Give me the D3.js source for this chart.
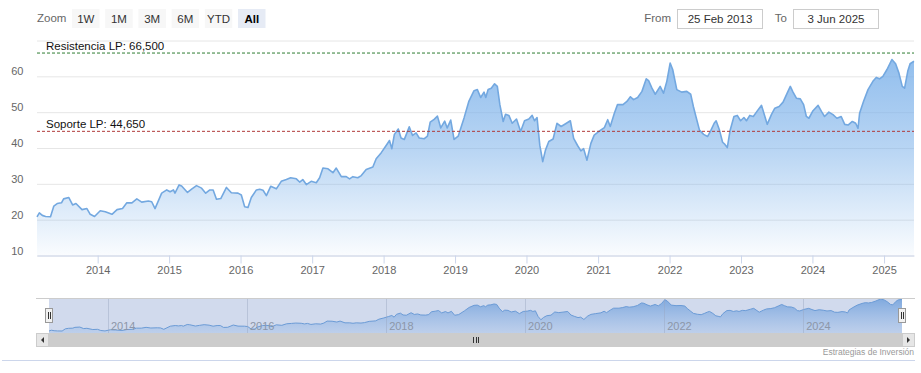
<!DOCTYPE html>
<html>
<head>
<meta charset="utf-8">
<script src="https://cdn.jsdelivr.net/npm/d3@7"></script>
<style>
  body { margin: 0; background: #fff; }
  text { font-family: "Liberation Sans", Arial, sans-serif; }
</style>
</head>
<body>
<div id="chart"></div>
<script>
// price series
const dates = [
  "2013-02-25","2013-03-09","2013-03-24","2013-04-10","2013-05-05","2013-05-22","2013-06-08","2013-06-30",
  "2013-07-11","2013-08-06","2013-08-26","2013-09-12","2013-10-13","2013-11-07","2013-11-24","2013-12-16",
  "2014-01-14","2014-02-09","2014-03-15","2014-04-10","2014-05-08","2014-05-30","2014-06-25","2014-07-20",
  "2014-08-14","2014-09-17","2014-10-04","2014-10-21","2014-11-24","2014-12-20","2015-01-06","2015-01-23",
  "2015-01-31","2015-02-21","2015-03-06","2015-04-05","2015-04-26","2015-05-21","2015-06-16","2015-07-07",
  "2015-07-28","2015-08-14","2015-08-31","2015-09-22","2015-10-21","2015-11-15","2015-12-19","2016-01-05",
  "2016-01-22","2016-02-08","2016-02-25","2016-03-22","2016-04-08","2016-04-25","2016-05-12","2016-06-03",
  "2016-07-02","2016-07-27","2016-08-22","2016-09-13","2016-10-12","2016-10-29","2016-11-14","2016-12-02",
  "2016-12-27","2017-01-22","2017-02-08","2017-02-25","2017-03-23","2017-04-17","2017-05-04","2017-05-30",
  "2017-06-24","2017-07-11","2017-07-28","2017-08-22","2017-09-09","2017-10-04","2017-11-07","2017-11-24",
  "2017-12-20","2018-01-14","2018-01-31","2018-02-12","2018-02-25","2018-03-17","2018-03-31","2018-04-17",
  "2018-05-12","2018-05-29","2018-06-16","2018-07-02","2018-07-28","2018-08-13","2018-08-27","2018-09-16",
  "2018-10-03","2018-10-20","2018-11-09","2018-11-22","2018-12-10","2018-12-27","2019-01-17","2019-02-16",
  "2019-03-13","2019-04-08","2019-04-25","2019-05-12","2019-05-29","2019-06-07","2019-06-19","2019-07-05",
  "2019-07-22","2019-08-05","2019-08-18","2019-09-04","2019-09-16","2019-10-03","2019-10-20","2019-11-11",
  "2019-12-02","2019-12-22","2020-01-13","2020-01-30","2020-02-11","2020-02-24","2020-03-09","2020-03-24",
  "2020-04-07","2020-04-24","2020-05-16","2020-06-05","2020-06-26","2020-07-23","2020-08-12","2020-08-29",
  "2020-09-18","2020-10-05","2020-10-19","2020-11-05","2020-11-25","2020-12-12","2021-01-04","2021-02-02",
  "2021-02-19","2021-03-04","2021-03-25","2021-04-10","2021-05-08","2021-05-28","2021-06-15","2021-07-01",
  "2021-07-22","2021-08-13","2021-09-04","2021-09-16","2021-10-03","2021-10-20","2021-11-14","2021-12-01",
  "2021-12-18","2022-01-04","2022-01-17","2022-02-07","2022-03-04","2022-03-30","2022-04-19","2022-05-03",
  "2022-05-17","2022-06-03","2022-06-24","2022-07-14","2022-07-30","2022-08-17","2022-08-27","2022-09-13",
  "2022-09-29","2022-10-11","2022-10-23","2022-11-06","2022-11-26","2022-12-13","2022-12-30","2023-01-16",
  "2023-01-29","2023-02-15","2023-03-05","2023-03-30","2023-04-16","2023-05-03","2023-05-15","2023-06-06",
  "2023-06-23","2023-07-15","2023-08-04","2023-08-25","2023-09-10","2023-09-24","2023-10-11","2023-10-31",
  "2023-11-17","2023-12-01","2023-12-14","2024-01-04","2024-01-30","2024-02-16","2024-03-03","2024-03-25",
  "2024-04-15","2024-05-05","2024-05-27","2024-06-14","2024-07-01","2024-07-23","2024-08-09","2024-08-21",
  "2024-08-29","2024-09-18","2024-10-11","2024-11-05","2024-11-22","2024-12-09","2024-12-26","2025-01-16",
  "2025-02-10","2025-03-01","2025-03-18","2025-04-04","2025-04-16","2025-05-02","2025-05-14","2025-06-03"
];
const prices = [
  20.8,21.9,21.2,20.9,20.8,23.8,24.5,24.7,
  25.8,26.2,24.1,24.5,22.8,23.1,21.5,20.9,
  22.5,22.2,21.5,22.8,23.1,24.7,24.7,25.8,
  24.9,25.2,25.0,23.1,27.4,28.3,27.8,28.3,
  27.4,29.7,29.4,27.6,28.5,29.5,28.8,27.4,
  28.3,28.3,25.7,25.9,29.0,27.5,27.4,26.9,
  23.6,23.4,26.2,28.3,28.5,28.2,26.7,29.3,
  28.6,30.7,31.2,31.7,31.4,30.5,31.2,29.8,
  30.7,30.3,31.7,34.4,34.2,33.1,34.4,32.0,
  32.0,31.4,32.0,31.7,32.3,34.0,34.7,37.0,
  38.7,40.7,42.1,39.8,43.8,45.3,42.8,42.4,
  45.9,43.5,44.2,42.8,42.6,43.3,47.2,48.0,
  48.9,45.6,47.5,45.6,47.8,42.4,43.3,48.4,
  53.1,56.0,56.3,54.1,55.6,54.1,56.3,56.7,
  57.9,57.2,52.1,47.4,49.4,49.1,46.9,48.1,
  44.6,47.6,48.1,49.1,47.6,48.5,40.8,36.2,
  39.4,41.8,42.5,46.9,46.0,46.9,47.6,42.7,
  40.7,39.2,39.8,36.6,41.3,43.6,44.6,45.7,
  47.9,46.0,49.7,52.1,52.1,53.0,54.3,53.5,
  54.1,55.8,59.3,58.8,56.7,55.0,57.2,55.3,
  58.6,63.7,61.9,56.3,55.6,55.8,55.0,51.5,
  48.5,45.0,43.8,43.2,44.8,46.9,47.6,45.0,
  41.6,41.0,40.1,44.8,48.8,49.1,47.6,48.5,
  47.6,49.1,48.8,50.7,51.9,48.8,46.6,49.4,
  51.1,51.6,52.8,55.3,57.2,55.6,53.9,53.7,
  52.1,48.8,48.3,50.4,51.9,50.2,48.8,50.0,
  49.3,48.3,48.8,46.6,46.4,47.4,46.9,45.5,
  49.7,53.0,56.3,58.6,59.7,59.3,60.0,61.9,
  64.7,63.5,60.9,57.2,56.7,61.4,63.5,64.2
];
const yTickLabels = [10, 20, 30, 40, 50, 60];
const levelNames  = ["Resistencia LP: 66,500", "Soporte LP: 44,650"];
const levelValues = [66.5, 44.65];
const zoomButtons = ["1W", "1M", "3M", "6M", "YTD", "All"];
const rangeFrom = "25 Feb 2013";
const rangeTo   = "3 Jun 2025";
const credit    = "Estrategias de Inversión";

const width  = 921;
const height = 373;
const plot = { left: 37, right: 914, top: 40.5, bottom: 255.5 };
const nav  = { left: 49, right: 902, top: 298, bottom: 333 };

const parseDate = d3.timeParse("%Y-%m-%d");
const data = dates.map((d, i) => ({ date: parseDate(d), price: prices[i] }));

const svg = d3.select("#chart")
  .append("svg")
  .attr("width", width)
  .attr("height", height);

const defs = svg.append("defs");
const areaGrad = defs.append("linearGradient")
  .attr("id", "areaGrad")
  .attr("gradientUnits", "userSpaceOnUse")
  .attr("x1", 0).attr("x2", 0)
  .attr("y1", plot.top).attr("y2", plot.bottom);
areaGrad.append("stop").attr("offset", 0).attr("stop-color", "#7db2ea").attr("stop-opacity", 0.9);
areaGrad.append("stop").attr("offset", 0.5).attr("stop-color", "#7db2ea").attr("stop-opacity", 0.55);
areaGrad.append("stop").attr("offset", 1).attr("stop-color", "#7db2ea").attr("stop-opacity", 0.04);

const navGrad = defs.append("linearGradient")
  .attr("id", "navGrad")
  .attr("gradientUnits", "userSpaceOnUse")
  .attr("x1", 0).attr("x2", 0)
  .attr("y1", nav.top).attr("y2", nav.bottom);
navGrad.append("stop").attr("offset", 0).attr("stop-color", "#6f9fdb").attr("stop-opacity", 0.85);
navGrad.append("stop").attr("offset", 1).attr("stop-color", "#8fb5e6").attr("stop-opacity", 0.3);

// scales
const xScale = d3.scaleTime()
  .domain(d3.extent(data, d => d.date))
  .range([plot.left, plot.right]);

const yScale = d3.scaleLinear()
  .domain([10, 70])
  .range([plot.bottom, plot.top]);

// y gridlines + labels
const yAxis = svg.append("g")
  .attr("transform", `translate(${plot.left}, 0)`)
  .call(d3.axisLeft(yScale)
    .tickValues(yScale.ticks(6))
    .tickSize(-(plot.right - plot.left))
    .tickPadding(13.5)
    .tickFormat(d => yTickLabels.includes(d) ? d : ""));
yAxis.select(".domain").remove();
yAxis.selectAll("line").attr("stroke", "#e6e6e6");
yAxis.selectAll("text")
  .attr("y", -5)
  .style("font-size", "11px")
  .style("fill", "#666");

// area + line
const area = d3.area()
  .x(d => xScale(d.date))
  .y0(plot.bottom)
  .y1(d => yScale(d.price));

svg.append("path")
  .datum(data)
  .attr("fill", "url(#areaGrad)")
  .attr("d", area);

const line = d3.line()
  .x(d => xScale(d.date))
  .y(d => yScale(d.price));

svg.append("path")
  .datum(data)
  .attr("fill", "none")
  .attr("stroke", "#73a8e0")
  .attr("stroke-width", 1.6)
  .attr("stroke-linejoin", "round")
  .attr("d", line);

// x axis
const xAxis = svg.append("g")
  .attr("transform", `translate(0, ${plot.bottom})`)
  .call(d3.axisBottom(xScale)
    .ticks(d3.timeYear.every(1))
    .tickFormat(d3.timeFormat("%Y"))
    .tickSize(8)
    .tickSizeOuter(0)
    .tickPadding(3));
xAxis.select(".domain").attr("stroke", "#ccd6eb");
xAxis.selectAll("line").attr("stroke", "#ccd6eb");
xAxis.selectAll("text")
  .style("font-size", "11px")
  .style("fill", "#666");

// support / resistance lines
const levelColors = ["#2e7d32", "#b03a3a"];
levelValues.forEach((v, i) => {
  svg.append("line")
    .attr("x1", plot.left).attr("x2", plot.right)
    .attr("y1", yScale(v)).attr("y2", yScale(v))
    .attr("stroke", levelColors[i])
    .attr("stroke-width", 1)
    .attr("stroke-dasharray", "3,2");
  svg.append("text")
    .attr("x", plot.left + 9)
    .attr("y", yScale(v) - 3)
    .style("font-size", "11.5px")
    .style("fill", "#111")
    .text(levelNames[i]);
});

// navigator
const navX = d3.scaleTime()
  .domain(xScale.domain())
  .range([nav.left, nav.right]);
const navY = d3.scaleLinear()
  .domain(d3.extent(data, d => d.price))
  .range([nav.bottom - 2, nav.top + 1]);

svg.append("rect")
  .attr("x", nav.left).attr("y", nav.top)
  .attr("width", nav.right - nav.left).attr("height", nav.bottom - nav.top)
  .attr("fill", "rgba(102,133,194,0.3)");

svg.append("path")
  .datum(data)
  .attr("fill", "url(#navGrad)")
  .attr("d", d3.area().x(d => navX(d.date)).y0(nav.bottom).y1(d => navY(d.price)));

svg.append("path")
  .datum(data)
  .attr("fill", "none")
  .attr("stroke", "#6b9bd6")
  .attr("stroke-width", 1)
  .attr("d", d3.line().x(d => navX(d.date)).y(d => navY(d.price)));

const navTicks = navX.ticks(d3.timeYear.every(2));
svg.append("g").selectAll("line")
  .data(navTicks)
  .join("line")
    .attr("x1", d => Math.round(navX(d)) + 0.5)
    .attr("x2", d => Math.round(navX(d)) + 0.5)
    .attr("y1", nav.top).attr("y2", nav.bottom)
    .attr("stroke", "#9aa6c0")
    .attr("stroke-opacity", 0.45);
svg.append("g").selectAll("text")
  .data(navTicks)
  .join("text")
    .attr("x", d => navX(d) + 3)
    .attr("y", nav.bottom - 3)
    .style("font-size", "11px")
    .style("fill", "#8c96a8")
    .text(d3.timeFormat("%Y"));

svg.append("line")
  .attr("x1", 36).attr("x2", 915)
  .attr("y1", nav.top + 0.5).attr("y2", nav.top + 0.5)
  .attr("stroke", "#cccccc");

// handles
[nav.left, nav.right].forEach(x => {
  svg.append("rect")
    .attr("x", x - 3.5).attr("y", 308.5)
    .attr("width", 7).attr("height", 14)
    .attr("fill", "#f2f2f2").attr("stroke", "#999");
  [-1, 1].forEach(o => {
    svg.append("line")
      .attr("x1", x + o + 0.5).attr("x2", x + o + 0.5)
      .attr("y1", 312).attr("y2", 319)
      .attr("stroke", "#333");
  });
});

// scrollbar
const sb = { left: 36, right: 915, top: 333, bottom: 347 };
svg.append("rect")
  .attr("x", sb.left).attr("y", sb.top)
  .attr("width", sb.right - sb.left).attr("height", sb.bottom - sb.top)
  .attr("fill", "#f2f2f2");
svg.append("rect")
  .attr("x", nav.left).attr("y", sb.top)
  .attr("width", nav.right - nav.left).attr("height", sb.bottom - sb.top)
  .attr("fill", "#cccccc");
[[sb.left, nav.left, -1], [nav.right, sb.right, 1]].forEach(([x0, x1, dir]) => {
  svg.append("rect")
    .attr("x", x0 + 0.5).attr("y", sb.top + 0.5)
    .attr("width", x1 - x0 - 1).attr("height", sb.bottom - sb.top - 1)
    .attr("fill", "#e6e6e6").attr("stroke", "#cccccc");
  const cx = (x0 + x1) / 2, cy = (sb.top + sb.bottom) / 2;
  svg.append("path")
    .attr("d", `M${cx - 1.5 * dir},${cy - 3} L${cx + 1.5 * dir},${cy} L${cx - 1.5 * dir},${cy + 3} Z`)
    .attr("fill", "#333");
});
const mid = (nav.left + nav.right) / 2;
[-2.5, 0, 2.5].forEach(o => {
  svg.append("line")
    .attr("x1", Math.round(mid + o) + 0.5).attr("x2", Math.round(mid + o) + 0.5)
    .attr("y1", 337).attr("y2", 343)
    .attr("stroke", "#333");
});

// bottom rule + credits
svg.append("line")
  .attr("x1", 2).attr("x2", 915)
  .attr("y1", 360.5).attr("y2", 360.5)
  .attr("stroke", "#ccd6eb");
svg.append("text")
  .attr("x", 914).attr("y", 355)
  .attr("text-anchor", "end")
  .style("font-size", "8.5px")
  .style("fill", "#999")
  .text(credit);

// range selector
svg.append("text")
  .attr("x", 37).attr("y", 22)
  .style("font-size", "11.5px")
  .style("fill", "#666")
  .text("Zoom");

const btn = svg.append("g").selectAll("g")
  .data(zoomButtons)
  .join("g")
    .attr("transform", (d, i) => `translate(${72 + i * 33.2}, 9)`);
btn.append("rect")
  .attr("width", 27.5).attr("height", 19)
  .attr("fill", d => d === "All" ? "#e6ebf5" : "#f7f7f7");
btn.append("text")
  .attr("x", 13.75).attr("y", 13.5)
  .attr("text-anchor", "middle")
  .style("font-size", "11.5px")
  .style("font-weight", d => d === "All" ? "bold" : "normal")
  .style("fill", d => d === "All" ? "#000" : "#333")
  .text(d => d);

[["From", rangeFrom, 671, 677], ["To", rangeTo, 787, 793]].forEach(([label, value, lx, bx]) => {
  svg.append("text")
    .attr("x", lx).attr("y", 22)
    .attr("text-anchor", "end")
    .style("font-size", "11.5px")
    .style("fill", "#666")
    .text(label);
  svg.append("rect")
    .attr("x", bx + 0.5).attr("y", 9.5)
    .attr("width", 85).attr("height", 19)
    .attr("fill", "#fff").attr("stroke", "#cccccc");
  svg.append("text")
    .attr("x", bx + 43).attr("y", 22.5)
    .attr("text-anchor", "middle")
    .style("font-size", "11.5px")
    .style("fill", "#333")
    .text(value);
});
</script>
</body>
</html>
